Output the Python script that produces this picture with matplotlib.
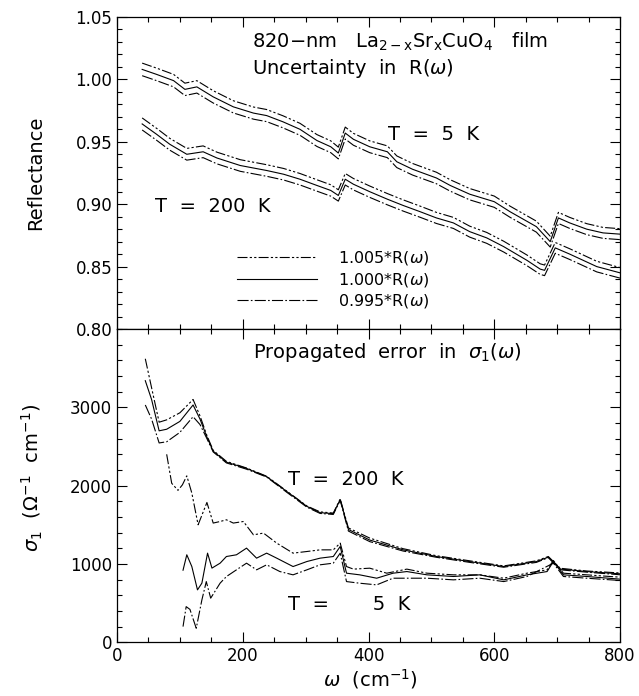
import matplotlib
matplotlib.use("Agg")
import matplotlib.pyplot as plt
import numpy as np
from matplotlib.ticker import MultipleLocator

plt.rcParams['font.family'] = ['DejaVu Sans']
plt.rcParams['mathtext.fontset'] = 'dejavusans'

# reflectance, T = 5 K  (the 1.000*R curve)
w_r5 = [40, 63, 90, 108, 127, 153, 185, 217, 238, 264, 291, 318, 340, 352, 363, 376,
        402, 430, 445, 470, 508, 530, 561, 600, 625, 667, 689, 702, 720, 747, 773, 800]
r5 = [1.008, 1.004, 0.999, 0.992, 0.994, 0.986, 0.978, 0.973, 0.971, 0.966, 0.960, 0.951,
      0.946, 0.941, 0.957, 0.952, 0.946, 0.942, 0.934, 0.928, 0.921, 0.915, 0.908, 0.902,
      0.894, 0.882, 0.870, 0.889, 0.885, 0.880, 0.877, 0.876]

# reflectance, T = 200 K
w_r200 = [40, 63, 84, 111, 137, 159, 196, 238, 265, 291, 318, 340, 352, 363, 376, 402,
          430, 455, 482, 508, 535, 561, 588, 615, 652, 673, 680, 697, 720, 763, 800]
r200 = [0.9643, 0.956, 0.948, 0.940, 0.942, 0.937, 0.931, 0.927, 0.924, 0.920, 0.915,
        0.911, 0.907, 0.920, 0.916, 0.910, 0.904, 0.899, 0.894, 0.889, 0.885, 0.878,
        0.873, 0.866, 0.855, 0.848, 0.847, 0.865, 0.860, 0.850, 0.845]

scales = [1.005, 1.000, 0.995]
scale_labels = [r'1.005*R($\omega$)', r'1.000*R($\omega$)', r'0.995*R($\omega$)']

# sigma_1, T = 200 K, from 1.005*R, 1.000*R, 0.995*R
w_s200 = [45, 55, 67, 79, 100, 121, 132, 143, 153, 174, 206, 238, 270, 302, 323, 344,
          355, 368, 402, 455, 508, 561, 615, 667, 686, 705, 747, 800]
s200_hi = [3620, 3250, 2810, 2840, 2930, 3100, 2890, 2640, 2450, 2310, 2225, 2120, 1930,
           1740, 1665, 1650, 1830, 1460, 1330, 1195, 1105, 1040, 975, 1040, 1095, 945, 910, 885]
s200_mid = [3340, 3100, 2700, 2720, 2820, 3030, 2850, 2620, 2440, 2300, 2220, 2115, 1925,
            1735, 1655, 1642, 1822, 1440, 1305, 1180, 1095, 1030, 967, 1030, 1087, 935, 903, 874]
s200_lo = [3030, 2850, 2545, 2560, 2680, 2880, 2780, 2600, 2430, 2290, 2210, 2110, 1915,
           1725, 1645, 1632, 1812, 1420, 1285, 1165, 1085, 1020, 958, 1020, 1080, 925, 895, 862]

# sigma_1, T = 5 K
w_s5_hi = [79, 87, 97, 104, 111, 119, 129, 143, 153, 164, 174, 185, 201, 217, 233, 254,
           280, 302, 323, 344, 355, 365, 376, 402, 429, 461, 493, 535, 577, 615, 652, 684,
           694, 710, 747, 800]
s5_hi = [2400, 2030, 1940, 2010, 2125, 1905, 1500, 1785, 1522, 1542, 1564, 1522, 1542,
         1372, 1394, 1266, 1138, 1159, 1180, 1180, 1266, 967, 934, 946, 882, 934, 882, 861,
         861, 818, 882, 925, 1044, 882, 861, 831]
w_s5_mid = [105, 111, 119, 128, 135, 144, 151, 164, 174, 190, 206, 222, 238, 254, 280, 302,
            323, 344, 355, 365, 386, 413, 439, 461, 493, 535, 577, 615, 652, 684, 694, 710,
            747, 800]
s5_mid = [920, 1117, 967, 669, 755, 1138, 947, 1010, 1095, 1117, 1202, 1074, 1138, 1074,
          967, 1031, 1074, 1095, 1223, 882, 861, 818, 882, 903, 861, 840, 861, 797, 861, 903,
          1031, 861, 840, 806]
w_s5_lo = [105, 110, 116, 126, 135, 142, 149, 164, 174, 190, 206, 222, 238, 259, 280, 302,
           323, 344, 355, 365, 386, 413, 439, 493, 535, 577, 615, 652, 694, 710, 747, 800]
s5_lo = [200, 455, 420, 179, 541, 775, 563, 755, 839, 925, 1010, 925, 989, 903, 861, 925,
         989, 1010, 1138, 775, 754, 733, 818, 818, 797, 818, 775, 840, 1010, 840, 818, 789]

styles = [(0, (9, 2, 2, 2, 2, 2)), '-', (0, (10, 2, 1.5, 2))]
lw = 0.8

fig = plt.figure(figsize=(6.39, 6.96), dpi=100)
ax1 = fig.add_axes([0.1831, 0.5273, 0.7872, 0.4483])
ax2 = fig.add_axes([0.1831, 0.0772, 0.7872, 0.4501])

# upper panel: reflectance with +-0.5% scaling
handles = []
for k, ls in zip(scales, styles):
    h, = ax1.plot(w_r5, np.array(r5) * k, color='k', ls=ls, lw=lw)
    ax1.plot(w_r200, np.array(r200) * k, color='k', ls=ls, lw=lw)
    handles.append(h)

ax1.set_xlim(0, 800)
ax1.set_ylim(0.80, 1.05)
ax1.yaxis.set_minor_locator(MultipleLocator(0.01))
ax1.set_yticks([0.80, 0.85, 0.90, 0.95, 1.00, 1.05])
ax1.set_yticklabels(['0.80', '0.85', '0.90', '0.95', '1.00', '1.05'])
ax1.tick_params(labelbottom=False)
ax1.set_ylabel('Reflectance', fontsize=14)
ax1.yaxis.set_label_coords(-0.143, 0.5)

ax1.text(215, 1.030, r'820$-$nm   La$_{\mathrm{2-x}}$Sr$_{\mathrm{x}}$CuO$_{\mathrm{4}}$   film',
         fontsize=14, ha='left', va='center')
ax1.text(215, 1.009, r'Uncertainty  in  R($\omega$)', fontsize=14, ha='left', va='center')
ax1.text(431, 0.9555, 'T  =  5  K', fontsize=14, ha='left', va='center')
ax1.text(60, 0.898, 'T  =  200  K', fontsize=14, ha='left', va='center')

ax1.legend(handles, scale_labels, loc='upper left', bbox_to_anchor=(0.2386, 0.255),
           frameon=False, fontsize=11.5, handlelength=5.0, handletextpad=1.3,
           labelspacing=0.22, borderpad=0, borderaxespad=0)

# lower panel: propagated error in sigma_1
for w, s, ls in [(w_s200, s200_hi, styles[0]), (w_s200, s200_mid, styles[1]),
                 (w_s200, s200_lo, styles[2]), (w_s5_hi, s5_hi, styles[0]),
                 (w_s5_mid, s5_mid, styles[1]), (w_s5_lo, s5_lo, styles[2])]:
    ax2.plot(w, s, color='k', ls=ls, lw=lw)

ax2.set_xlim(0, 800)
ax2.set_ylim(0, 4000)
ax2.set_yticks([0, 1000, 2000, 3000])
ax2.yaxis.set_minor_locator(MultipleLocator(200))
ax2.set_ylabel(r'$\sigma_1$  ($\Omega^{-1}$  cm$^{-1}$)', fontsize=14)
ax2.yaxis.set_label_coords(-0.143, 0.525)
ax2.set_xlabel(r'$\omega$  (cm$^{-1}$)', fontsize=14)
ax2.xaxis.set_label_coords(0.503, -0.08)

ax2.text(216, 3700, r'Propagated  error  in  $\sigma_1(\omega)$', fontsize=14,
         ha='left', va='center')
ax2.text(272, 2076, 'T  =  200  K', fontsize=14, ha='left', va='center')
ax2.text(272, 477, 'T  =       5  K', fontsize=14, ha='left', va='center')

for ax in (ax1, ax2):
    ax.xaxis.set_major_locator(MultipleLocator(200))
    ax.xaxis.set_minor_locator(MultipleLocator(50))
    ax.tick_params(which='both', direction='in', top=True, right=True, width=0.8,
                   labelsize=12)
    ax.tick_params(which='major', length=7)
    ax.tick_params(which='minor', length=3.5)
    for sp in ax.spines.values():
        sp.set_linewidth(0.9)

fig.savefig('out.png', dpi=100)
